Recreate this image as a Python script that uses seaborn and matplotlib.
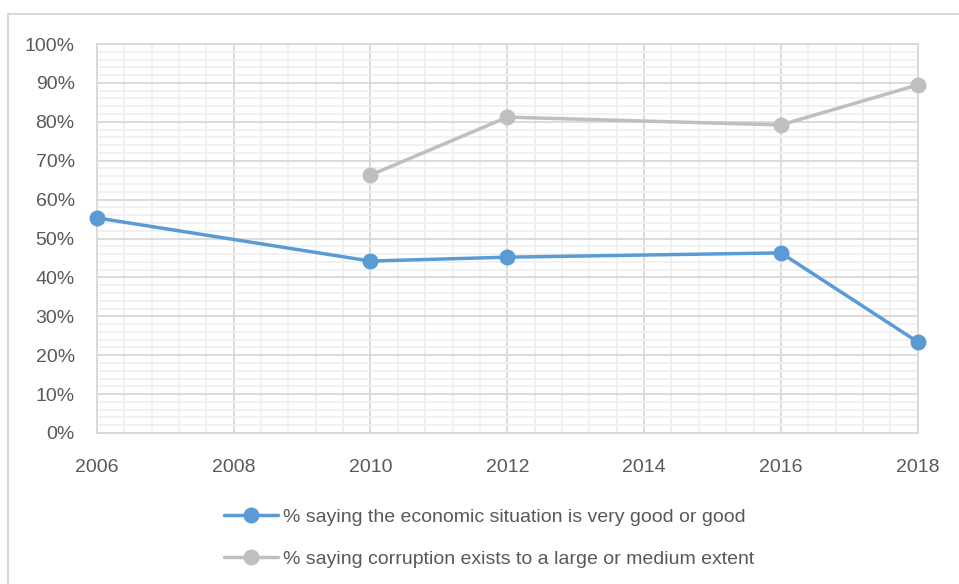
import pandas as pd
import seaborn as sns
import matplotlib.pyplot as plt
import matplotlib.patches as mpatches
from matplotlib.ticker import MultipleLocator, PercentFormatter

years_econ = [2006, 2010, 2012, 2016, 2018]
econ_good = [55.3, 44.2, 45.2, 46.3, 23.4]
years_corr = [2010, 2012, 2016, 2018]
corruption = [66.3, 81.2, 79.2, 89.5]

label_econ = '% saying the economic situation is very good or good'
label_corr = '% saying corruption exists to a large or medium extent'

df = pd.concat([
    pd.DataFrame({'year': years_econ, 'value': econ_good, 'series': label_econ}),
    pd.DataFrame({'year': years_corr, 'value': corruption, 'series': label_corr}),
])

sns.set_style('white')
plt.rcParams['font.family'] = ['Liberation Sans', 'DejaVu Sans']

fig = plt.figure(figsize=(9.59, 5.84), dpi=100)
ax = fig.add_axes([0.101, 0.2586, 0.856, 0.666])

# outer chart frame
fig.patches.append(mpatches.Rectangle((8/959, -0.05), 1.0, 1 - 14/584 + 0.05,
                                      transform=fig.transFigure, fill=False,
                                      edgecolor='#d9d9d9', linewidth=1.5))

sns.lineplot(data=df, x='year', y='value', hue='series',
             palette={label_econ: '#5b9bd5', label_corr: '#bfbfbf'},
             marker='o', markersize=11.5, markeredgewidth=0, linewidth=2.5,
             ax=ax, zorder=5, clip_on=False)

ax.set_xlim(2006, 2018)
ax.set_ylim(0, 100)
ax.xaxis.set_major_locator(MultipleLocator(2))
ax.xaxis.set_minor_locator(MultipleLocator(0.4))
ax.yaxis.set_major_locator(MultipleLocator(10))
ax.yaxis.set_minor_locator(MultipleLocator(2))
ax.yaxis.set_major_formatter(PercentFormatter(decimals=0))
ax.grid(which='major', color='#d9d9d9', linewidth=1.3)
ax.grid(which='minor', color='#f0f0f0', linewidth=1.3)
ax.set_axisbelow(True)
for s in ax.spines.values():
    s.set_color('#d9d9d9')
    s.set_linewidth(1.3)
ax.tick_params(which='both', length=0, labelsize=14, labelcolor='#595959')
ax.tick_params(axis='x', pad=19)
ax.tick_params(axis='y', pad=16)
ax.set_xlabel('')
ax.set_ylabel('')

ax.legend(loc='upper left', bbox_to_anchor=(224/959, 1 - 508/584),
          bbox_transform=fig.transFigure, borderpad=0, borderaxespad=0,
          frameon=False, fontsize=14, labelcolor='#595959', handlelength=2.8,
          handletextpad=0.25, labelspacing=1.25)

fig.savefig('out.png', dpi=100)
